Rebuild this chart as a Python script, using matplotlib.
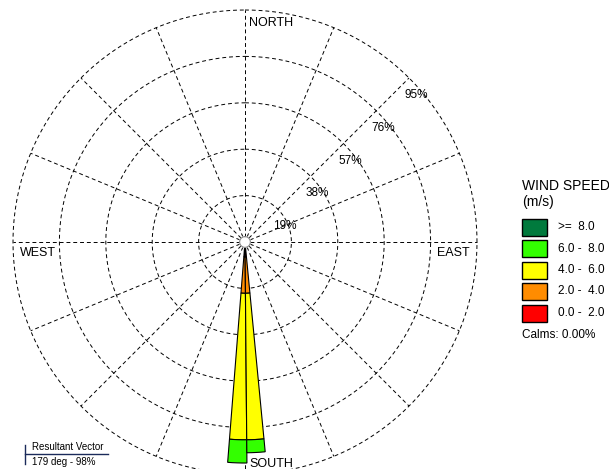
import numpy as np
import matplotlib
matplotlib.use("Agg")
import matplotlib.pyplot as plt
from matplotlib.patches import Rectangle

plt.rcParams['font.family'] = ['Liberation Sans', 'DejaVu Sans']

# data
ring_values = [19, 38, 57, 76, 95]
ring_labels = ["19%", "38%", "57%", "76%", "95%"]
petal_dirs = [182, 177]          # deg, clockwise from north
petal_width = 5                  # deg
# stacked frequencies (%) per speed class, lowest class first
speed_classes = ["0.0 -  2.0", "2.0 -  4.0", "4.0 -  6.0", "6.0 -  8.0", ">=  8.0"]
speed_colors = ["#ff0000", "#ff8c00", "#ffff00", "#33ff00", "#007a3d"]
freq_182 = [6.0, 15.0, 60.0, 9.5, 0.0]
freq_177 = [6.0, 15.0, 60.0, 5.3, 0.0]
calms = "Calms: 0.00%"
resultant = "179 deg - 98%"

W, H = 609, 469
fig = plt.figure(figsize=(W / 100, H / 100), dpi=100)

# polar axes centred at (245, 242) px, 95% ring at 232 px
cx, cy, r95 = 245, 242, 232
rmax = 97
rpx = r95 * rmax / 95
ax = fig.add_axes([(cx - rpx) / W, (H - cy - rpx) / H, 2 * rpx / W, 2 * rpx / H],
                  projection='polar')
ax.set_theta_zero_location('N')
ax.set_theta_direction(-1)
ax.set_ylim(0, rmax)
ax.grid(False)
ax.set_xticks([])
ax.set_yticks([])
ax.spines['polar'].set_visible(False)
ax.patch.set_alpha(0)

# rings
th = np.linspace(0, 2 * np.pi, 400)
for rv in ring_values:
    ax.plot(th, np.full_like(th, rv), color='black', lw=0.7, ls=(0, (4, 3)))
# spokes every 22.5 deg
for k in range(16):
    t = np.deg2rad(k * 22.5)
    ax.plot([t, t], [2.2, 95], color='black', lw=0.7, ls=(0, (4, 3)))

# petals
for d, freqs in [(petal_dirs[0], freq_182), (petal_dirs[1], freq_177)]:
    bottom = 0
    for f, c in zip(freqs, speed_colors):
        if f > 0:
            ax.bar(np.deg2rad(d), f, width=np.deg2rad(petal_width), bottom=bottom,
                   color=c, edgecolor='black', lw=0.8, align='center', zorder=3)
        bottom += f

# calm circle
ax.fill(th, np.full_like(th, 2.2), color='white', zorder=4)
ax.plot(th, np.full_like(th, 2.2), color='#888888', lw=0.8, zorder=4)

# ring labels
for rv, lab in zip(ring_values, ring_labels):
    ax.annotate(lab, xy=(np.pi / 4, rv), xytext=(-5, -11), textcoords='offset pixels',
                ha='left', va='top', fontsize=8.5)

# compass labels
ax.annotate("NORTH", xy=(0, 95), xytext=(4, -7), textcoords='offset pixels',
            ha='left', va='top', fontsize=9)
ax.annotate("SOUTH", xy=(np.pi, 95), xytext=(4, 7), textcoords='offset pixels',
            ha='left', va='baseline', fontsize=9)
ax.annotate("WEST", xy=(1.5 * np.pi, 95), xytext=(7, -14), textcoords='offset pixels',
            ha='left', va='baseline', fontsize=9)
ax.annotate("EAST", xy=(0.5 * np.pi, 95), xytext=(-7, -14), textcoords='offset pixels',
            ha='right', va='baseline', fontsize=9)

# legend
def fx(px):
    return px / W

def fy(py):
    return 1 - py / H

fig.text(fx(522), fy(186), "WIND SPEED", ha='left', va='center', fontsize=10)
fig.text(fx(522), fy(202), "(m/s)", ha='left', va='center', fontsize=10)
row0, step = 227, 21.5
for i, (lab, c) in enumerate(zip(speed_classes[::-1], speed_colors[::-1])):
    yc = row0 + i * step
    fig.patches.append(Rectangle((fx(522), fy(yc + 8.5)), 25 / W, 17 / H, transform=fig.transFigure,
                                 facecolor=c, edgecolor='black', lw=1))
    fig.text(fx(558), fy(yc), lab, ha='left', va='center', fontsize=8.5)
fig.text(fx(522), fy(row0 + 5 * step), calms, ha='left', va='center', fontsize=8.5)

# resultant vector
fig.add_artist(plt.Line2D([fx(25), fx(25)], [fy(445), fy(464)], color='#1a2a5a', lw=1,
                          transform=fig.transFigure))
fig.add_artist(plt.Line2D([fx(25), fx(108)], [fy(454), fy(454)], color='#1a2a5a', lw=1,
                          transform=fig.transFigure))
fig.text(fx(32), fy(447), "Resultant Vector", ha='left', va='center', fontsize=7)
fig.text(fx(32), fy(462), resultant, ha='left', va='center', fontsize=7)

fig.savefig("out.png", dpi=100)
